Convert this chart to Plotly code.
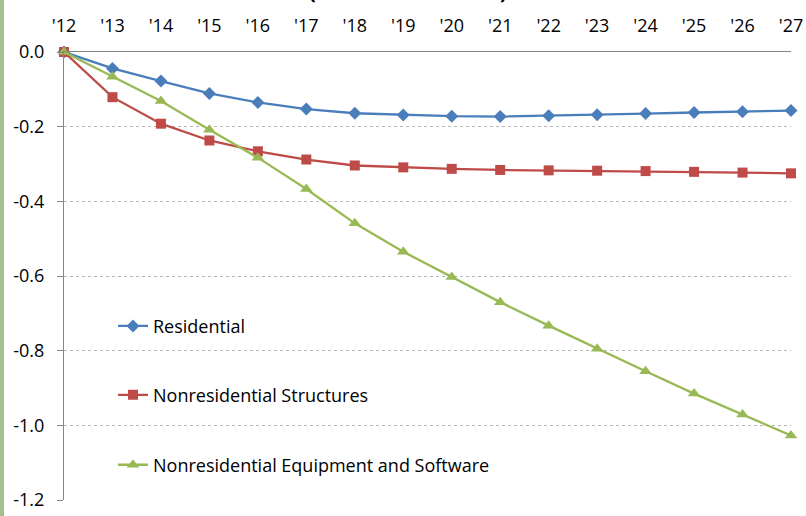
import plotly.graph_objects as go

years = list(range(2012, 2028))
year_labels = ["'12", "'13", "'14", "'15", "'16", "'17", "'18", "'19", "'20",
               "'21", "'22", "'23", "'24", "'25", "'26", "'27"]
residential = [0.0, -0.044, -0.078, -0.111, -0.135, -0.153, -0.164, -0.169, -0.172,
               -0.173, -0.171, -0.168, -0.165, -0.162, -0.160, -0.157]
nonres_structures = [0.0, -0.121, -0.192, -0.237, -0.266, -0.288, -0.304, -0.309, -0.313,
                     -0.316, -0.317, -0.318, -0.319, -0.321, -0.323, -0.325]
nonres_equipment = [0.0, -0.066, -0.131, -0.208, -0.283, -0.367, -0.459, -0.535, -0.603,
                    -0.670, -0.733, -0.795, -0.855, -0.915, -0.971, -1.027]
series_names = ["Residential", "Nonresidential Structures",
                "Nonresidential Equipment and Software"]
y_ticks = [0.0, -0.2, -0.4, -0.6, -0.8, -1.0, -1.2]

FONT = "Open Sans"
FS = 18
colors = ["#4a7ebb", "#be4b48", "#98b954"]
symbols = ["diamond", "square", "triangle-up"]
sizes = [10, 10, 11]
legend_ids = ["legend", "legend2", "legend3"]
legend_y = [0.388, 0.234, 0.078]

fig = go.Figure()
for vals, name, c, s, sz, lg in zip([residential, nonres_structures, nonres_equipment],
                                    series_names, colors, symbols, sizes, legend_ids):
    fig.add_trace(go.Scatter(
        x=years, y=vals, name=name, mode="lines+markers",
        line=dict(color=c, width=2.3),
        marker=dict(symbol=s, size=sz, color=c),
        cliponaxis=False, legend=lg,
    ))

W, H = 806, 516
L, R, T, B = 64, 15, 52, 16
pw = W - L - R
ph = H - T - B

layout_legends = {}
for lg, yy in zip(legend_ids, legend_y):
    layout_legends[lg] = dict(
        x=(113 - L) / pw, y=yy, xanchor="left", yanchor="middle",
        bgcolor="rgba(0,0,0,0)", borderwidth=0,
        font=dict(family=FONT, size=FS, color="#000000"),
        itemwidth=30,
    )

fig.update_layout(
    width=W, height=H,
    margin=dict(l=L, r=R, t=T, b=B, autoexpand=False),
    paper_bgcolor="white", plot_bgcolor="white",
    showlegend=True,
    font=dict(family=FONT, size=FS, color="#000000"),
    xaxis=dict(
        side="top", range=[2012, 2027], tickmode="array",
        tickvals=years, ticktext=year_labels, showgrid=False, zeroline=False,
        showline=True, linecolor="#868686", linewidth=1, ticks="",
        automargin=False, ticklabelstandoff=12,
        tickfont=dict(family=FONT, size=FS, color="#000000"),
    ),
    yaxis=dict(
        range=[-1.2, 0], tickmode="array", tickvals=y_ticks,
        ticktext=["%.1f" % v for v in y_ticks],
        showgrid=True, gridcolor="#b5b5b5", griddash="dot", gridwidth=1,
        zeroline=False, showline=True, linecolor="#868686", linewidth=1,
        ticks="outside", ticklen=6, tickcolor="#868686", automargin=False,
        ticklabelstandoff=9,
        tickfont=dict(family=FONT, size=FS, color="#000000"),
    ),
    shapes=[dict(type="rect", xref="paper", yref="paper",
                 x0=(0 - L) / pw, x1=(4 - L) / pw, y0=-B / ph,
                 y1=1 + T / ph, fillcolor="#a3c08f", line=dict(width=0),
                 layer="above")],
    annotations=[dict(text="<b>(Percent Deviation )</b>", xref="paper",
                      yref="paper", x=(408 - L) / pw, y=1 + (T + 8.5) / ph,
                      xanchor="center", yanchor="middle", showarrow=False,
                      font=dict(family=FONT, size=20, color="#000000"))],
    **layout_legends,
)

fig.write_html("out.html")
